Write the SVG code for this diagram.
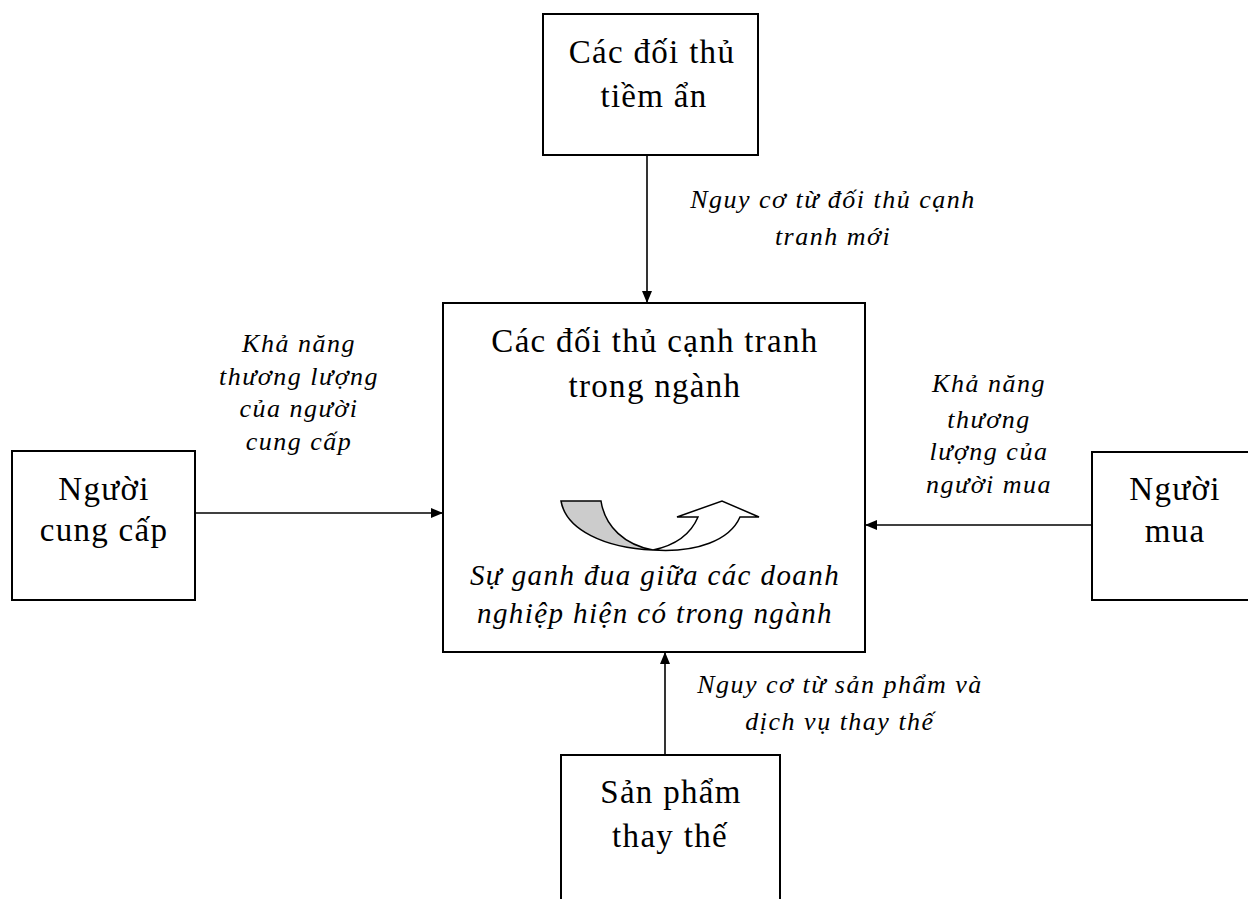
<svg xmlns="http://www.w3.org/2000/svg" width="1248" height="899" viewBox="0 0 1248 899">
  <style>
    .box { fill: #ffffff; stroke: #000000; stroke-width: 2; }
    text { font-family: 'Liberation Serif', 'DejaVu Serif', 'Times New Roman', serif; fill: #000000; text-anchor: middle; }
    .title { font-size: 33px; letter-spacing: 1.3px; }
    .note { font-size: 26px; font-style: italic; letter-spacing: 1.5px; }
    .inner { font-size: 29px; font-style: italic; letter-spacing: 1.4px; }
    .link { stroke: #000000; stroke-width: 1.6; fill: none; marker-end: url(#head); }
  </style>
  <defs>
    <marker id="head" viewBox="0 0 12 10" refX="12" refY="5" markerWidth="12" markerHeight="10" markerUnits="userSpaceOnUse" orient="auto">
      <path d="M0,0 L12,5 L0,10 Z" fill="#000000"/>
    </marker>
  </defs>
  <rect width="1248" height="899" fill="#ffffff"/>

  <!-- connectors -->
  <g id="connectors">
    <line class="link" x1="647" y1="155" x2="647" y2="303"/>
    <line class="link" x1="195" y1="513" x2="443" y2="513"/>
    <line class="link" x1="1092" y1="525" x2="865" y2="525"/>
    <line class="link" x1="665" y1="755" x2="665" y2="652"/>
  </g>

  <!-- potential entrants -->
  <g id="node-entrants">
    <rect class="box" x="543" y="14" width="215" height="141"/>
    <text class="title" x="652" y="63">Các đối thủ</text>
    <text class="title" x="654" y="107">tiềm ẩn</text>
  </g>

  <!-- industry competitors -->
  <g id="node-industry">
    <rect class="box" x="443" y="303" width="422" height="349"/>
    <text class="title" x="655" y="352">Các đối thủ cạnh tranh</text>
    <text class="title" x="655" y="397">trong ngành</text>
    <!-- rivalry arrow -->
    <path d="M561,501 L601,501 C605,527 625,545 653,550 C605,548 566,530 561,501 Z" fill="#cccccc" stroke="#000000" stroke-width="1.5"/>
    <path d="M653,550 C697,553 730,540 740,517 L759,517 L722,501 L677,517 L698,517 C690,536 672,546 653,550 Z" fill="#ffffff" stroke="#000000" stroke-width="1.5"/>
    <text class="inner" x="655" y="585">Sự ganh đua giữa các doanh</text>
    <text class="inner" x="655" y="623">nghiệp hiện có trong ngành</text>
  </g>

  <!-- suppliers -->
  <g id="node-suppliers">
    <rect class="box" x="12" y="451" width="183" height="149"/>
    <text class="title" x="104" y="500">Người</text>
    <text class="title" x="104" y="541">cung cấp</text>
  </g>

  <!-- buyers -->
  <g id="node-buyers">
    <rect class="box" x="1092" y="452" width="170" height="148"/>
    <text class="title" x="1175" y="500">Người</text>
    <text class="title" x="1175" y="542">mua</text>
  </g>

  <!-- substitutes -->
  <g id="node-substitutes">
    <rect class="box" x="561" y="755" width="219" height="160"/>
    <text class="title" x="671" y="803">Sản phẩm</text>
    <text class="title" x="670" y="847">thay thế</text>
  </g>

  <!-- force labels -->
  <g id="labels">
    <text class="note" x="833" y="208">Nguy cơ từ đối thủ cạnh</text>
    <text class="note" x="833" y="245">tranh mới</text>
    <text class="note" x="299" y="352">Khả năng</text>
    <text class="note" x="299" y="385">thương lượng</text>
    <text class="note" x="299" y="417">của người</text>
    <text class="note" x="299" y="450">cung cấp</text>
    <text class="note" x="989" y="392">Khả năng</text>
    <text class="note" x="989" y="428">thương</text>
    <text class="note" x="989" y="460">lượng của</text>
    <text class="note" x="989" y="493">người mua</text>
    <text class="note" x="840" y="693">Nguy cơ từ sản phẩm và</text>
    <text class="note" x="840" y="730">dịch vụ thay thế</text>
  </g>
</svg>
